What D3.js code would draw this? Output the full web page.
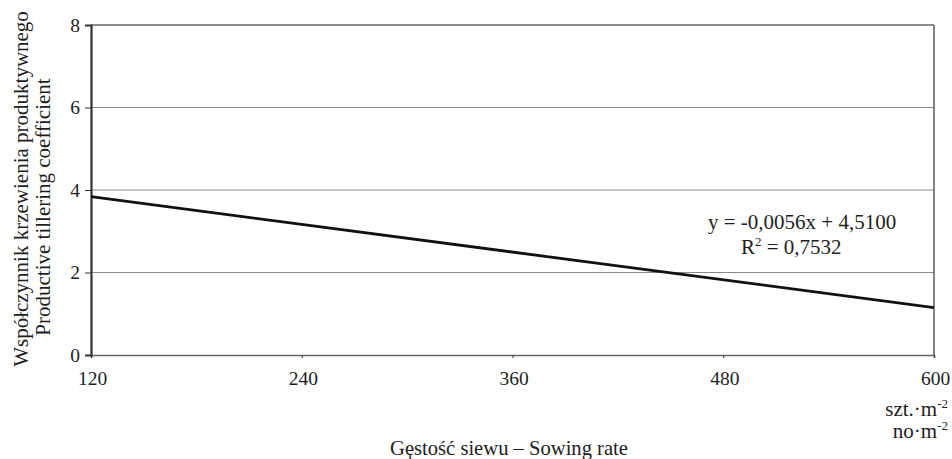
<!DOCTYPE html>
<html>
<head>
<meta charset="utf-8">
<script src="https://cdn.jsdelivr.net/npm/d3@7"></script>
<style>
  body { margin: 0; background: #fff; }
</style>
</head>
<body>
<div id="chart"></div>
<script>
// --- Data ---
const xTicks = [120, 240, 360, 480, 600];
const yTicks = [0, 2, 4, 6, 8];
// fitted trend line end points
const trendX = [120, 600];
const trendY = [3.84, 1.15];
const equationText = "y = -0,0056x + 4,5100";
const r2Value = "0,7532";

const width = 952, height = 459;
const margin = { top: 25, right: 18, bottom: 104, left: 91 };
const innerW = width - margin.left - margin.right;
const innerH = height - margin.top - margin.bottom;
const FONT = "Liberation Serif";
const TXT = "#1e1e1e";

const svg = d3.select("#chart").append("svg")
    .attr("width", width)
    .attr("height", height)
    .style("display", "block")
    .attr("font-family", FONT);

const g = svg.append("g")
    .attr("transform", `translate(${margin.left},${margin.top})`);

const x = d3.scaleLinear().domain([120, 600]).range([0, innerW]);
const y = d3.scaleLinear().domain([0, 8]).range([innerH, 0]);

// Gridlines (top one doubles as the frame)
const yMax = d3.max(yTicks);
g.append("g")
    .selectAll("line")
    .data(yTicks.filter(d => d > 0))
    .join("line")
    .attr("x1", 0)
    .attr("x2", innerW)
    .attr("y1", d => y(d))
    .attr("y2", d => y(d))
    .attr("stroke", d => d === yMax ? "#666" : "#8a8a8a")
    .attr("stroke-width", d => d === yMax ? 1.6 : 1);

// Right border
g.append("line")
    .attr("x1", innerW).attr("x2", innerW)
    .attr("y1", y(yMax)).attr("y2", innerH)
    .attr("stroke", "#666")
    .attr("stroke-width", 1.6);

// X axis
const xAxis = g.append("g")
    .attr("transform", `translate(0,${innerH})`)
    .call(d3.axisBottom(x).tickValues(xTicks).tickSize(3).tickPadding(13).tickFormat(d3.format("d")));
xAxis.attr("font-family", FONT);
xAxis.select(".domain").attr("stroke", "#666").attr("stroke-width", 1.6);
xAxis.selectAll(".tick line").attr("stroke", "#333");
xAxis.selectAll("text")
    .attr("font-family", FONT)
    .attr("font-size", 19.5)
    .attr("fill", TXT)
    .attr("dx", 1);

// Y axis
const yAxis = g.append("g")
    .call(d3.axisLeft(y).tickValues(yTicks).tickSize(6).tickPadding(5).tickFormat(d3.format("d")));
yAxis.attr("font-family", FONT);
yAxis.select(".domain").attr("stroke", "#333").attr("stroke-width", 2.2);
yAxis.selectAll(".tick line").attr("stroke", "#333");
yAxis.selectAll("text")
    .attr("font-family", FONT)
    .attr("font-size", 19.5)
    .attr("fill", TXT);

// Trend line
const line = d3.line()
    .x(d => x(d[0]))
    .y(d => y(d[1]));

g.append("path")
    .datum(d3.zip(trendX, trendY))
    .attr("d", line)
    .attr("fill", "none")
    .attr("stroke", "#111")
    .attr("stroke-width", 2.8);

// Equation
g.append("text")
    .attr("x", 708 - margin.left)
    .attr("y", 229 - margin.top)
    .attr("font-family", FONT)
    .attr("font-size", 21)
    .attr("fill", TXT)
    .text(equationText);

const r2 = g.append("text")
    .attr("x", 741 - margin.left)
    .attr("y", 254 - margin.top)
    .attr("font-family", FONT)
    .attr("font-size", 21)
    .attr("fill", TXT);
r2.append("tspan").text("R");
r2.append("tspan").attr("font-size", 13).attr("dy", -8).text("2");
r2.append("tspan").attr("dy", 8).text(" = " + r2Value);

// Units under the x axis end
const unitLines = ["szt.·m", "no·m"];
unitLines.forEach((u, i) => {
    const t = svg.append("text")
        .attr("x", 948)
        .attr("y", 416 + i * 22)
        .attr("text-anchor", "end")
        .attr("font-family", FONT)
        .attr("font-size", 21)
        .attr("fill", TXT);
    t.append("tspan").text(u);
    t.append("tspan").attr("font-size", 13).attr("dy", -8).text("-2");
});

// X title
svg.append("text")
    .attr("x", 509)
    .attr("y", 455)
    .attr("text-anchor", "middle")
    .attr("font-family", FONT)
    .attr("font-size", 20.6)
    .attr("fill", TXT)
    .text("Gęstość siewu – Sowing rate");

// Y title (two lines)
const yTitle = ["Współczynnik krzewienia produktywnego", "Productive tillering coefficient"];
const yTitleX = [28, 50], yTitleMid = [189, 207];
yTitle.forEach((t, i) => {
    svg.append("text")
        .attr("transform", `translate(${yTitleX[i]},${yTitleMid[i]}) rotate(-90)`)
        .attr("text-anchor", "middle")
        .attr("font-family", FONT)
        .attr("font-size", 21)
        .attr("fill", TXT)
        .text(t);
});
</script>
</body>
</html>
